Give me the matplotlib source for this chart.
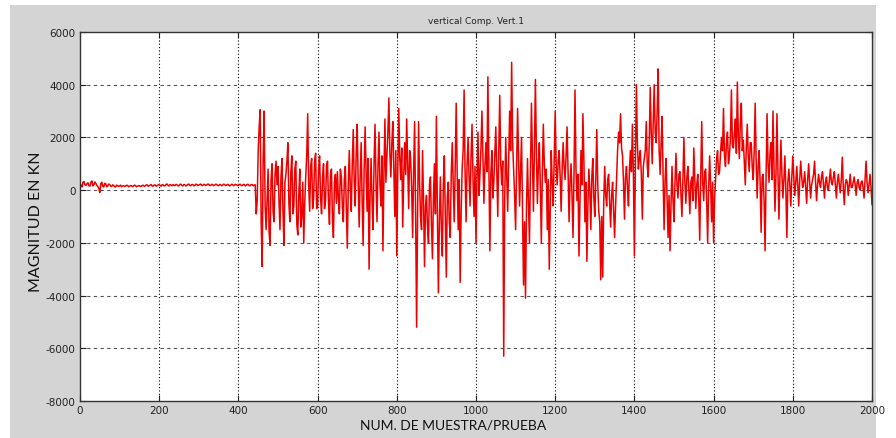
import numpy as np
import matplotlib.pyplot as plt
from matplotlib.patches import Rectangle

plt.rcParams['axes.unicode_minus'] = False

# sample index step of the digitised signal
step = 5

# signal values at samples 0, 5, 10 ... (one row = 50 samples)
vals = [
    250, 120, 330, 180, 280, 150, 350, 200, 260, 140,
    -90, 300, 120, 240, 160, 210, 140, 180, 120, 170,
    160, 130, 170, 150, 180, 140, 165, 150, 175, 145,
    170, 150, 185, 160, 200, 170, 210, 160, 190, 175,
    220, 150, 200, 170, 230, 160, 190, 215, 175, 200,
    170, 225, 160, 200, 185, 230, 170, 210, 180, 220,
    190, 230, 175, 210, 195, 225, 180, 205, 190, 215,
    170, 210, 180, 215, 185, 200, 175, 210, 190, 205,
    180, 220, 175, 205, 190, 215, 170, 210, 195, -900,
    1500, 3050, -2900, 3000, -1500, 800, -2100, 1000, -1200, 1100,
    900, -1500, 1200, -2100, 600, 1800, -1200, 1300, -600, 1100,
    -1700, 800, -1000, -2000, 500, 2900, -800, 1200, -300, 1400,
    -600, 1300, -900, 1000, -400, 1100, -1300, 800, -1800, 600,
    700, -900, 500, -1200, 900, -2200, 1500, -800, 2300, -600,
    2500, -1400, 1800, -2100, 2400, -800, -3000, 1200, -1500, 2500,
    -1200, 2200, -600, -2300, 2700, 1200, 3500, 500, 2600, -1000,
    -2500, 3100, 400, -1400, 1800, 2700, -700, 1200, -1800, 2600,
    -5200, 2600, -1000, 1500, -2900, -200, -2000, 500, -2600, 1000,
    2800, -3900, 500, -2500, 1300, -3300, 300, -1800, 1800, -1200,
    3300, -1500, -3500, 800, 3800, -1200, 2000, -600, 2500, -1000,
    -2000, 2200, 600, 3000, -500, 1800, 4300, -2300, 1500, 300,
    2400, -1000, 3600, 200, -6300, 2000, -800, 3000, 4850, 800,
    -1500, 3100, -600, 2000, -3600, -4100, 1200, -2000, 3300, -800,
    4200, -500, 1800, -2000, 2500, 300, -1500, -3000, 1500, -600,
    3000, 200, 1500, -800, 1800, 400, 2400, -1200, 1000, -1800,
    3800, -400, -2500, 1500, 2900, -1200, -2700, 800, -1500, 1200,
    -1000, 2300, -800, -3400, -3300, 900, -600, 600, -1400, 300,
    -1800, 400, 2200, 2900, 1300, -1100, 900, -600, 1500, 2500,
    -2500, 4000, 800, 1500, -1100, 1200, 2600, 500, 3900, 1000,
    4000, 1800, 4600, 600, 2800, -1500, 1200, -1800, -2300, 900,
    -1200, 1400, -300, 700, -1000, 2000, -500, 900, -900, 500,
    1600, -700, 600, -1900, 2600, -400, 800, -2000, 1300, -1200,
    -2000, 400, 1500, 700, 2000, 3100, 900, 2200, 1300, 3800,
    1600, 2700, 4100, 1200, 3300, 1900, 200, 2500, 700, 1800,
    400, 3300, -300, 1500, -1600, 600, -2300, 2900, 300, 1800,
    3000, -800, 2900, -1100, 1900, -300, 1300, -1800, 800, -600,
    1300, -200, 900, -600, 1100, 100, 700, -500, 1000, -300,
    400, 1100, -400, 600, 100, 700, -300, 500, 0, 800,
    200, 700, -300, 600, -100, 1250, -550, 400, -200, 600,
    100, 500, -200, 400, 0, 350, -300, 1100, -100, 600,
    -550,
]

# readings in between, at samples 2.5, 7.5, 12.5 ... (the dense core of the trace)
mids = [
    180, 300, 200, 240, 170, 300, 160, 310, 180, 60,
    250, 150, 260, 130, 230, 150, 200, 130, 190, 140,
    190, 155, 140, 185, 130, 175, 135, 190, 130, 165,
    140, 180, 145, 200, 150, 195, 150, 200, 150, 205,
    170, 210, 160, 220, 180, 215, 165, 180, 220, 160,
    220, 175, 215, 160, 220, 175, 215, 165, 225, 175,
    215, 180, 220, 175, 230, 175, 220, 170, 225, 175,
    215, 170, 225, 175, 220, 165, 220, 170, 220, 175,
    210, 170, 220, 160, 220, 170, 215, 165, 200, -400,
    2400, -1200, 1200, -600, -300, -1600, 400, -800, 600, 200,
    -400, 500, -800, 300, 1100, -500, 700, -900, 800, -1300,
    -200, -1400, 300, -500, 1300, 200, 900, -700, 1100, -700,
    800, -300, 500, -700, 900, -500, 600, -1100, 300, -500,
    -300, 800, -600, 400, -700, 200, 100, 1000, 300, 1400,
    300, 500, -400, 800, 700, 1200, -200, -400, 1000, 300,
    900, 200, 1300, 600, 300, 2200, 1400, 1800, 700, 1500,
    800, 1200, 1600, 500, 600, 900, 1500, 100, 700, -800,
    -1000, 300, -1500, -400, -600, -1400, 200, -1300, -300, -900,
    -800, -1200, -1400, 200, -1000, -300, -1200, 600, 200, 900,
    600, 400, -800, 1500, 600, 1000, 500, 1300, 400, 900,
    500, -200, 1600, 1200, 900, 700, 1000, 600, -300, 1300,
    700, 1500, 1000, 1100, -400, 600, 1200, 1500, 1800, -200,
    900, 1200, 700, -700, -1200, -700, -500, 800, 1200, 1500,
    1500, 900, 100, 600, 1000, 800, 400, -800, 300, 1200,
    900, 1100, 500, 800, 900, 1300, 700, 300, -200, 600,
    800, 600, -400, 200, 1100, 300, -600, 0, 500, -300,
    400, 200, -1200, -1000, -500, -200, 400, -500, -200, -800,
    -600, 1500, 1800, 1600, 300, 500, 100, 800, 700, 600,
    1000, 1800, 1200, 600, 900, 1500, 900, 1800, 2200, 2600,
    2200, 3000, 1500, 1800, 500, 400, -300, -200, -500, -400,
    300, 200, 600, -200, 400, 300, 500, 0, 300, -400,
    400, 200, -300, 500, 300, 700, -400, 100, 200, 300,
    -300, 1200, 600, 1400, 1500, 1300, 1800, 1000, 2000, 1700,
    2200, 1400, 2000, 2600, 1500, 1100, 1600, 1300, 1800, 900,
    1500, 1100, 900, 300, 500, -400, 500, 1000, 1400, 400,
    900, 600, 700, 500, 600, 400, 0, 300, 200, 500,
    500, 300, 200, 400, 500, 300, 100, 400, 300, 200,
    600, 300, 200, 300, 500, 200, 300, 100, 400, 300,
    500, 200, 300, 200, 400, 100, 200, 300, 200, 100,
    300, 200, 300, 100, 300, 100, 400, 300, 200, 100,
]

# put both readings in sample order
signal = np.empty(len(vals) + len(mids))
signal[0::2] = vals
signal[1::2] = mids
samples = np.arange(len(signal)) * step / 2

xticks = [0, 200, 400, 600, 800, 1000, 1200, 1400, 1600, 1800, 2000]
yticks = [-8000, -6000, -4000, -2000, 0, 2000, 4000, 6000]

fig = plt.figure(figsize=(8.96, 4.39), dpi=100, facecolor='white')
# grey figure panel like the matlab window
fig.patches.append(Rectangle((10/896, 0), 866/896, 433/439, transform=fig.transFigure,
                             facecolor='#d4d4d4', edgecolor='none', zorder=-10))

ax = fig.add_axes([80/896, 37/439, 792/896, 369/439])
ax.set_facecolor('white')
ax.plot(samples, signal, color='#ee0000', lw=1.1)

ax.set_xlim(0, 2000)
ax.set_ylim(-8000, 6000)
ax.set_xticks(xticks)
ax.set_yticks(yticks)
ax.tick_params(direction='in', length=4, labelsize=7.5, top=True, right=True,
               colors='#222222', pad=3)
for s in ax.spines.values():
    s.set_color('#333333')
    s.set_linewidth(1.0)

for x in xticks[1:-1]:
    ax.axvline(x, color='black', ls=(0, (1, 2)), lw=0.8, zorder=0)
for y in yticks[1:-1]:
    ax.axhline(y, color='#555555', ls=(0, (3, 3)), lw=0.8, zorder=0)

fig.text(476/896, 1 - 22/439, 'vertical Comp. Vert.1', ha='center', va='center',
         fontsize=6.5, color='#222222')
fig.text(453/896, 1 - 426/439, 'NUM. DE MUESTRA/PRUEBA', ha='center', va='center',
         fontsize=10, family='Lato', color='#111111')
fig.text(36/896, 1 - 222/439, 'MAGNITUD EN KN', ha='center', va='center',
         rotation=90, fontsize=11.5, family='Lato', color='#111111')

fig.savefig('out.png', dpi=100, facecolor=fig.get_facecolor())
